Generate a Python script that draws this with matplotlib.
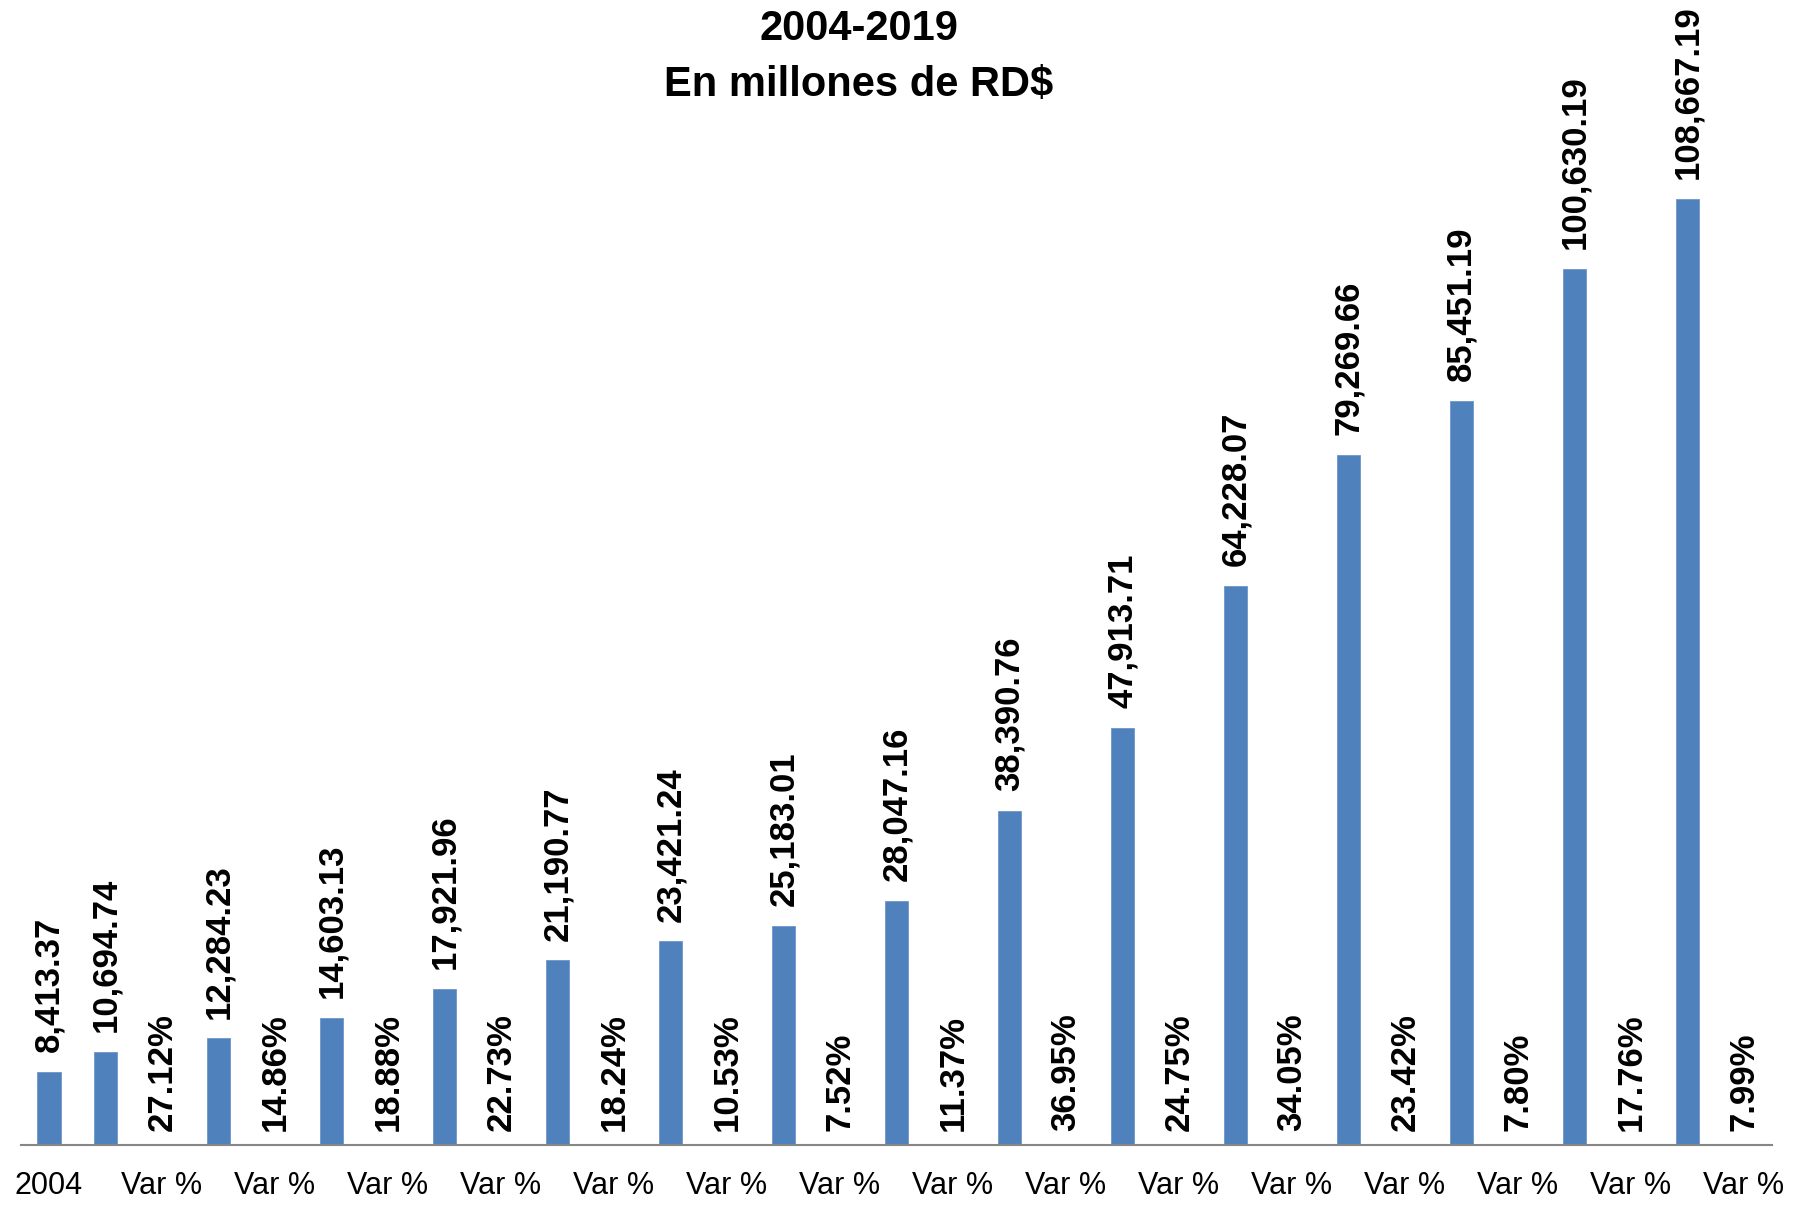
import matplotlib
matplotlib.use("Agg")
import matplotlib.pyplot as plt

plt.rcParams['font.family'] = ['Liberation Sans', 'DejaVu Sans']

years = ["2004", "2005", "2006", "2007", "2008", "2009", "2010", "2011", "2012",
         "2013", "2014", "2015", "2016", "2017", "2018", "2019"]
values = [8413.37, 10694.74, 12284.23, 14603.13, 17921.96, 21190.77, 23421.24,
          25183.01, 28047.16, 38390.76, 47913.71, 64228.07, 79269.66, 85451.19,
          100630.19, 108667.19]
var_pct = [27.12, 14.86, 18.88, 22.73, 18.24, 10.53, 7.52, 11.37, 36.95, 24.75,
           34.05, 23.42, 7.80, 17.76, 7.99]
var_label = "Var %"
title = "2004-2019\nEn millones de RD$"

# Build category sequence: 2004, 2005, Var, 2006, Var, ... 2019, Var
cats, heights, kinds, labels = [], [], [], []
cats.append(years[0]); heights.append(values[0]); kinds.append("bar"); labels.append(f"{values[0]:,.2f}")
for i in range(1, len(years)):
    cats.append(years[i]); heights.append(values[i]); kinds.append("bar"); labels.append(f"{values[i]:,.2f}")
    cats.append(var_label); heights.append(0); kinds.append("var"); labels.append(f"{var_pct[i-1]:.2f}%")

W, H = 1801, 1205
fig = plt.figure(figsize=(W / 100, H / 100), dpi=100)
ax = fig.add_axes([20.7 / W, 60 / H, (1772 - 20.7) / W, 1045 / H])

x = list(range(len(cats)))
ax.bar(x, heights, width=0.41, color="#4F81BD", edgecolor="#6E96C8", linewidth=0.6, zorder=2)
ax.set_xlim(-0.5, len(cats) - 0.5)
ax.set_ylim(0, 120000)

for xi, h, k, lab in zip(x, heights, kinds, labels):
    if k == "bar":
        ax.annotate(lab, (xi, h), xytext=(0, 14), textcoords="offset points",
                    rotation=90, ha="center", va="bottom", fontsize=25,
                    fontweight="bold", annotation_clip=False)
    else:
        ax.annotate(lab, (xi, 0), xytext=(0, 10), textcoords="offset points",
                    rotation=90, ha="center", va="bottom", fontsize=25,
                    fontweight="bold", annotation_clip=False)

tick_pos = [i for i in x if i % 2 == 0]
ax.set_xticks(tick_pos)
ax.set_xticklabels([cats[i] for i in tick_pos], fontsize=22)
ax.tick_params(axis="x", length=0, pad=19)
ax.set_yticks([])
for s in ["top", "right", "left"]:
    ax.spines[s].set_visible(False)
ax.spines["bottom"].set_color("#868686")
ax.spines["bottom"].set_linewidth(1.5)

fig.text(859 / W, 1 - 57 / H, title, ha="center", va="center", fontsize=30,
         fontweight="bold", linespacing=1.5)

fig.savefig("out.png", dpi=100)
